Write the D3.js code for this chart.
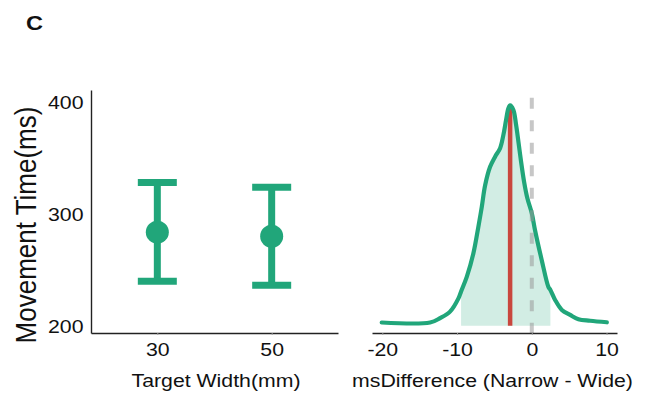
<!DOCTYPE html>
<html>
<head>
<meta charset="utf-8">
<script src="https://cdn.jsdelivr.net/npm/d3@7"></script>
<style>
  body { margin: 0; background: #fff; }
  svg text { font-family: "Liberation Sans", Arial, sans-serif; fill: #111; }
</style>
</head>
<body>
<svg id="viz"></svg>
<script>
var width = 646;
var height = 399;

// left panel: movement time by target width (mean and error bar)
var targetWidths = ["30", "50"];
var mtMean = [284.2, 280.6];
var mtUpper = [328.6, 324.4];
var mtLower = [240.4, 236.9];
var mtTicks = [200, 300, 400];

// right panel: density of the difference
var diffX = [-20.08, -13.61, -12.28, -10.94, -9.83, -9.46, -8.70, -7.82, -7.15, -6.69,
             -6.25, -5.58, -4.91, -4.24, -3.80, -3.44, -3.13, -2.90, -2.46, -2.10,
             -1.79, -1.43, -1.03, -0.59, 0.00, 0.44, 1.34, 2.22, 2.49, 3.12,
             4.02, 5.13, 6.24, 7.80, 10.04];
var diffDensity = [0.000, 0.000, 0.020, 0.050, 0.110, 0.143, 0.210, 0.318, 0.441, 0.533,
                   0.631, 0.717, 0.764, 0.803, 0.864, 0.933, 0.987, 1.000, 0.979, 0.910,
                   0.833, 0.740, 0.648, 0.572, 0.503, 0.424, 0.286, 0.164, 0.150, 0.104,
                   0.058, 0.035, 0.015, 0.008, 0.001];
var diffMean = -2.9;
var intervalLow = -9.46;
var intervalHigh = 2.49;
var diffTicks = [-20, -10, 0, 10];

var green = "#21a67a";
var red = "#c9473e";
var stretch = 1.15; // text in the picture is a little wide

var svg = d3.select("#viz").attr("width", width).attr("height", height);

// panel label
svg.append("text")
    .attr("transform", "translate(26,30) scale(" + stretch + ",1)")
    .style("font-size", "20.5px")
    .style("font-weight", "bold")
    .attr("fill", "#1a1a1a")
    .text("C");

// ---------- left panel ----------
var x1 = d3.scalePoint().domain(targetWidths).range([91, 338]).padding(0.58);
var y1 = d3.scaleLinear().domain([194.2, 411.2]).range([333, 90]);

var gx1 = svg.append("g").attr("transform", "translate(0,333)")
    .call(d3.axisBottom(x1).tickSize(2).tickPadding(8).tickSizeOuter(0));
var gy1 = svg.append("g").attr("transform", "translate(91,0)")
    .call(d3.axisLeft(y1).tickValues(mtTicks).tickSize(0).tickPadding(6.5));

function styleAxis(g) {
    g.select(".domain").attr("stroke", "#222").attr("stroke-width", 1.4);
    g.selectAll(".tick line").attr("stroke", "#999").attr("stroke-width", 1);
    g.selectAll(".tick text")
        .style("font-size", "18.5px")
        .attr("fill", "#111")
        .attr("transform", "scale(" + stretch + ",1)");
}
styleAxis(gx1);
styleAxis(gy1);

var bars = svg.append("g").selectAll("g")
    .data(targetWidths)
    .enter()
    .append("g");

bars.append("line")
    .attr("x1", function(d) { return x1(d); })
    .attr("x2", function(d) { return x1(d); })
    .attr("y1", function(d, i) { return y1(mtUpper[i]); })
    .attr("y2", function(d, i) { return y1(mtLower[i]); })
    .attr("stroke", green).attr("stroke-width", 7);

[mtUpper, mtLower].forEach(function(arr) {
    bars.append("line")
        .attr("x1", function(d) { return x1(d) - 19.5; })
        .attr("x2", function(d) { return x1(d) + 19.5; })
        .attr("y1", function(d, i) { return y1(arr[i]); })
        .attr("y2", function(d, i) { return y1(arr[i]); })
        .attr("stroke", green).attr("stroke-width", 7);
});

bars.append("circle")
    .attr("cx", function(d) { return x1(d); })
    .attr("cy", function(d, i) { return y1(mtMean[i]); })
    .attr("r", 11.5)
    .attr("fill", green);

svg.append("text")
    .attr("transform", "translate(36,225) scale(" + stretch + ",1) rotate(-90)")
    .attr("text-anchor", "middle")
    .style("font-size", "26px")
    .text("Movement Time(ms)");

svg.append("text")
    .attr("transform", "translate(216,387) scale(" + stretch + ",1)")
    .attr("text-anchor", "middle")
    .style("font-size", "18.5px")
    .text("Target Width(mm)");

// ---------- right panel ----------
var x2 = d3.scaleLinear().domain([-21.38, 11.4]).range([372, 617]);
var y2 = d3.scaleLinear().domain([-0.0484, 1.071]).range([333, 90]);

var density = diffX.map(function(v, i) { return {x: v, d: diffDensity[i]}; });
var shaded = density.filter(function(p) { return p.x >= intervalLow && p.x <= intervalHigh; });

svg.append("path")
    .datum(shaded)
    .attr("fill", "#d2ede4")
    .attr("d", d3.area()
        .x(function(p) { return x2(p.x); })
        .y0(y2(-0.015))
        .y1(function(p) { return y2(p.d); })
        .curve(d3.curveCatmullRom));

svg.append("line")
    .attr("x1", x2(diffMean)).attr("x2", x2(diffMean))
    .attr("y1", y2(1.0)).attr("y2", y2(-0.015))
    .attr("stroke", red).attr("stroke-width", 4.5);

svg.append("path")
    .datum(density)
    .attr("fill", "none")
    .attr("stroke", green)
    .attr("stroke-width", 4.2)
    .attr("stroke-linejoin", "round")
    .attr("stroke-linecap", "round")
    .attr("d", d3.line()
        .x(function(p) { return x2(p.x); })
        .y(function(p) { return y2(p.d); })
        .curve(d3.curveCatmullRom));

svg.append("line")
    .attr("x1", x2(0)).attr("x2", x2(0))
    .attr("y1", y2(1.035)).attr("y2", y2.range()[0])
    .attr("stroke", "#999")
    .attr("stroke-opacity", 0.55)
    .attr("stroke-width", 4)
    .attr("stroke-dasharray", "11,11.5");

var gx2 = svg.append("g").attr("transform", "translate(0,333)")
    .call(d3.axisBottom(x2).tickValues(diffTicks).tickFormat(d3.format("d"))
        .tickSize(2).tickPadding(8).tickSizeOuter(0));
styleAxis(gx2);
// plain hyphen for the minus sign, as in the picture
gx2.selectAll(".tick text").text(function(d) { return String(d); });

svg.append("text")
    .attr("transform", "translate(492.5,387) scale(" + stretch + ",1)")
    .attr("text-anchor", "middle")
    .style("font-size", "18.5px")
    .text("msDifference (Narrow - Wide)");
</script>
</body>
</html>
